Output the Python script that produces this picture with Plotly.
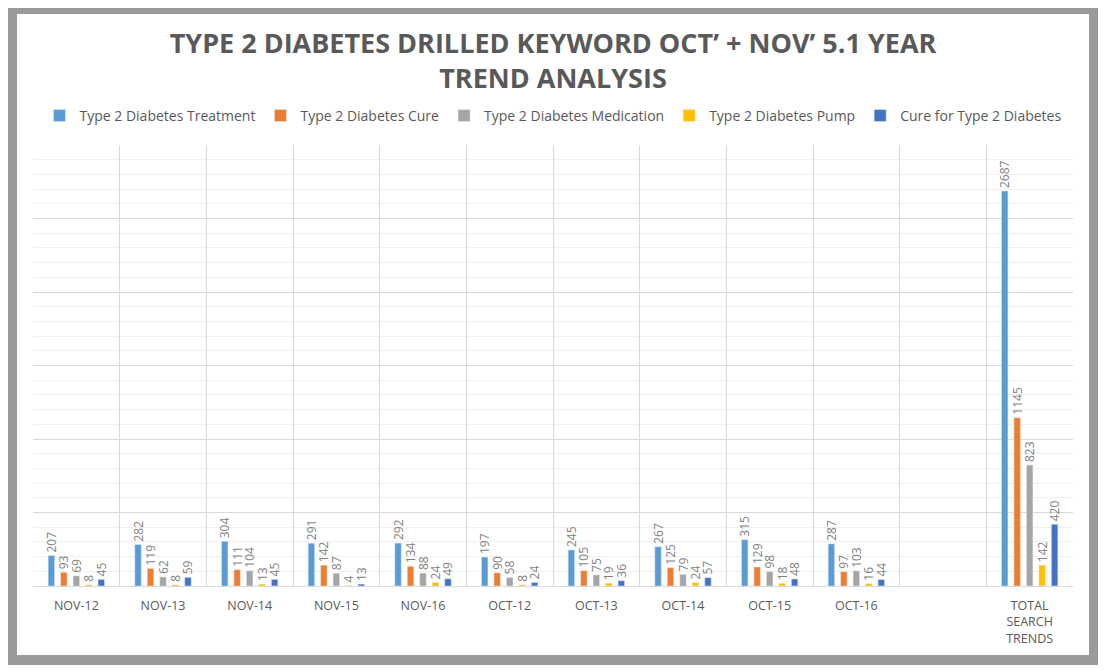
import plotly.graph_objects as go

categories = ["NOV-12", "NOV-13", "NOV-14", "NOV-15", "NOV-16",
              "OCT-12", "OCT-13", "OCT-14", "OCT-15", "OCT-16",
              " ", "TOTAL<br>SEARCH<br>TRENDS"]

series_names = ["Type 2 Diabetes Treatment", "Type 2 Diabetes Cure",
                "Type 2 Diabetes Medication", "Type 2 Diabetes Pump",
                "Cure for Type 2 Diabetes"]

treatment = [207, 282, 304, 291, 292, 197, 245, 267, 315, 287, None, 2687]
cure = [93, 119, 111, 142, 134, 90, 105, 125, 129, 97, None, 1145]
medication = [69, 62, 104, 87, 88, 58, 75, 79, 98, 103, None, 823]
pump = [8, 8, 13, 4, 24, 8, 19, 24, 18, 16, None, 142]
cure_for = [45, 59, 45, 13, 49, 24, 36, 57, 48, 44, None, 420]

colors = ["#5B9BD5", "#ED7D31", "#A5A5A5", "#FFC000", "#4472C4"]

# page has an 8px body margin, so the figure is offset by 8px
OFF = 8
W, H = 1098, 662
ML, MR, MT, MB = 25, 33, 137, 84
PW = W - ML - MR
PH = H - MT - MB

def px_x(p):
    return (p - OFF - ML) / PW

def px_y(p):
    return (H - MB - (p - OFF)) / PH

fig = go.Figure()
for name, vals, col in zip(series_names, [treatment, cure, medication, pump, cure_for], colors):
    fig.add_trace(go.Bar(
        x=categories, y=vals, name=name, marker_color=col,
        text=[("" if v is None else str(v)) for v in vals],
        textposition="outside", textangle=-90, constraintext="none",
        cliponaxis=False,
        textfont=dict(family="Open Sans, sans-serif", size=12, color="#7F7F7F"),
    ))

shapes = [
    dict(type="rect", xref="paper", yref="paper", layer="below",
         x0=px_x(8), x1=px_x(1100), y0=px_y(665), y1=px_y(7),
         fillcolor="#9A9A9A", line=dict(width=0)),
    dict(type="rect", xref="paper", yref="paper", layer="below",
         x0=px_x(17), x1=px_x(1089), y0=px_y(655), y1=px_y(14),
         fillcolor="#FFFFFF", line=dict(width=0)),
]

fig.update_layout(
    width=W, height=H,
    margin=dict(l=ML, r=MR, t=MT, b=MB, autoexpand=False),
    paper_bgcolor="#FFFFFF", plot_bgcolor="rgba(0,0,0,0)",
    shapes=shapes,
    barmode="group", bargap=0.28, bargroupgap=0.48,
    title=dict(
        text="TYPE 2 DIABETES DRILLED KEYWORD OCT’ + NOV’ 5.1 YEAR<br>TREND ANALYSIS",
        x=0.5, xref="paper", xanchor="center", y=1 - (53 - OFF) / H, yanchor="middle",
        font=dict(family="Open Sans, sans-serif", size=27, color="#595959", weight="bold"),
    ),
    legend=dict(
        orientation="h", x=0.5, xanchor="center", y=px_y(116), yanchor="middle",
        font=dict(family="Open Sans, sans-serif", size=14, color="#595959"),
        bgcolor="rgba(0,0,0,0)", itemwidth=30, tracegroupgap=0,
    ),
    xaxis=dict(
        type="category", categoryorder="array", categoryarray=categories,
        tickson="boundaries", showgrid=True, gridcolor="#D9D9D9", gridwidth=1,
        showline=True, linecolor="#D9D9D9", ticks="",
        tickfont=dict(family="Open Sans, sans-serif", size=12.5, color="#595959"),
        tickangle=0, mirror=False, ticklabelstandoff=8,
    ),
    yaxis=dict(
        range=[0, 3000], dtick=500, showticklabels=False, showgrid=True,
        gridcolor="#D9D9D9", gridwidth=1, zeroline=False, ticks="",
        minor=dict(dtick=100, showgrid=True, gridcolor="#EFEFEF", gridwidth=1),
    ),
    showlegend=True,
)

fig.write_html("out.html")
